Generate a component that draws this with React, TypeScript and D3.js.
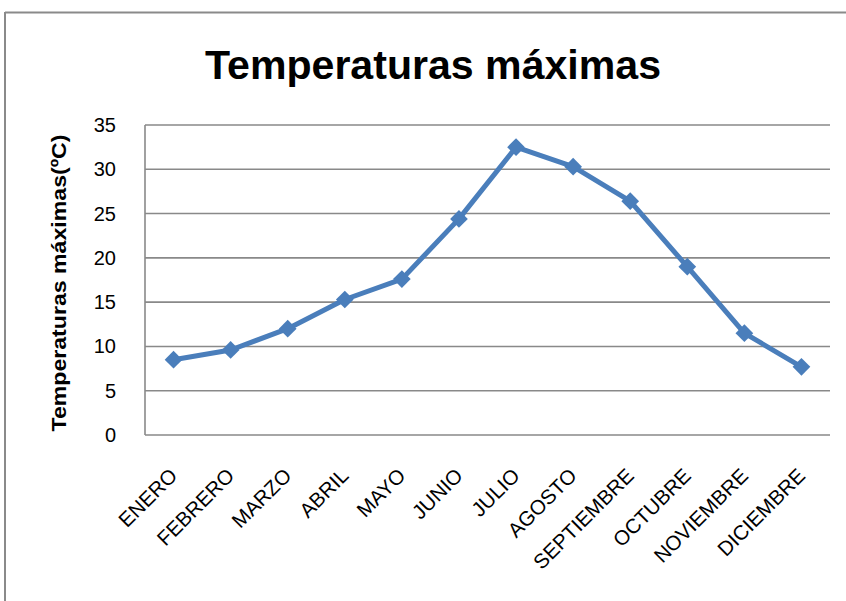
import React from "react";
import * as d3 from "d3";

const months = ["ENERO","FEBRERO","MARZO","ABRIL","MAYO","JUNIO","JULIO","AGOSTO","SEPTIEMBRE","OCTUBRE","NOVIEMBRE","DICIEMBRE"];
const tempMax = [8.5, 9.6, 12, 15.3, 17.6, 24.4, 32.5, 30.3, 26.4, 19, 11.5, 7.7];
const yTicks = [0, 5, 10, 15, 20, 25, 30, 35];
const title = "Temperaturas máximas";
const yLabel = "Temperaturas máximas(ºC)";

export default function App() {
  const W = 846, H = 601;
  const left = 145, right = 830, top = 125, bottom = 435;
  const x = d3.scaleBand().domain(months).range([left, right]);
  const y = d3.scaleLinear().domain([0, 35]).range([bottom, top]);
  const cx = (m: string) => (x(m) as number) + x.bandwidth() / 2;
  const line = d3.line<number>().x((_, i) => cx(months[i])).y((d) => y(d));
  const diamond = d3.symbol().type(d3.symbolDiamond2).size(200)();
  const font = "'Liberation Sans', Arial, sans-serif";
  const blue = "#4A7EBB";
  return (
    <svg width={W} height={H} style={{ position: "absolute", left: 0, top: 0, background: "#fff" }} fontFamily={font}>
      <rect x={0} y={0} width={W} height={H} fill="#fff" />
      <line x1={5} y1={12.5} x2={W} y2={12.5} stroke="#8a8a8a" strokeWidth={2} />
      <line x1={5} y1={12} x2={5} y2={H} stroke="#8a8a8a" strokeWidth={2} />
      <text x={433} y={79} textAnchor="middle" fontSize={40} fontWeight="bold" textLength={456} lengthAdjust="spacingAndGlyphs">{title}</text>
      {yTicks.map((t) => (
        <g key={t}>
          <line x1={left} x2={right} y1={y(t)} y2={y(t)} stroke="#898989" strokeWidth={1.6} />
          <text x={116} y={y(t)} dy="0.35em" textAnchor="end" fontSize={20}>{t}</text>
        </g>
      ))}
      <line x1={left} x2={left} y1={top} y2={bottom} stroke="#898989" strokeWidth={1.6} />
      <text transform={`translate(66,283) rotate(-90)`} textAnchor="middle" fontSize={20} fontWeight="bold" textLength={297} lengthAdjust="spacingAndGlyphs">{yLabel}</text>
      {months.map((m) => (
        <text key={m} transform={`translate(${cx(m) + 5},${477}) rotate(-45)`} textAnchor="end" fontSize={20.5}>{m}</text>
      ))}
      <path d={line(tempMax) as string} fill="none" stroke={blue} strokeWidth={5} strokeLinejoin="round" />
      {tempMax.map((v, i) => (
        <path key={i} d={diamond as string} transform={`translate(${cx(months[i])},${y(v)})`} fill={blue} />
      ))}
    </svg>
  );
}
